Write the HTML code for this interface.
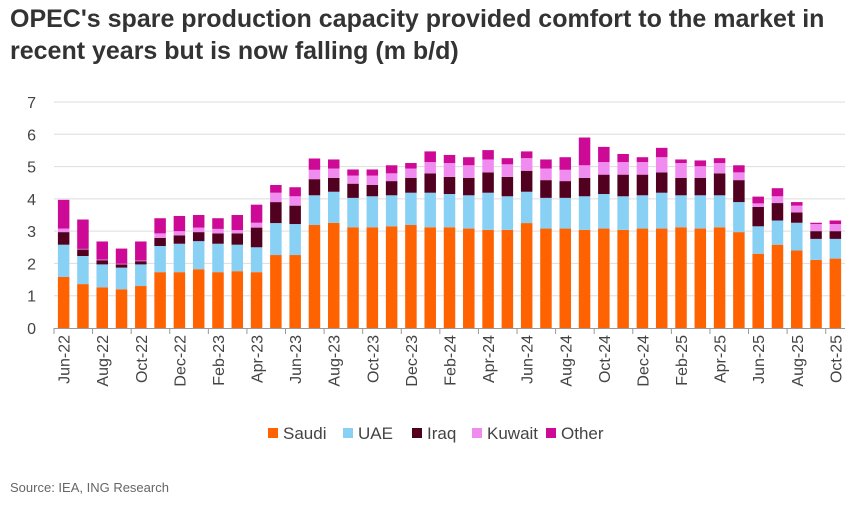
<!DOCTYPE html>
<html><head><meta charset="utf-8"><style>
body{margin:0;background:#fff;font-family:"Liberation Sans",sans-serif;}
#wrap{position:relative;width:850px;height:512px;overflow:hidden;}
h1{position:absolute;left:10px;top:3px;margin:0;font-size:25px;line-height:32px;font-weight:bold;color:#333;}
#src{position:absolute;left:10px;top:480px;font-size:13px;color:#666;}
</style></head><body>
<div id="wrap">
<h1>OPEC's spare production capacity provided comfort to the market in<br>recent years but is now falling (m b/d)</h1>
<svg id="chart" width="850" height="512" style="position:absolute;left:0;top:0"></svg>
<div id="src">Source: IEA, ING Research</div>
</div>
<script>
const categories=["Jun-22","Jul-22","Aug-22","Sep-22","Oct-22","Nov-22","Dec-22","Jan-23","Feb-23","Mar-23","Apr-23","May-23","Jun-23","Jul-23","Aug-23","Sep-23","Oct-23","Nov-23","Dec-23","Jan-24","Feb-24","Mar-24","Apr-24","May-24","Jun-24","Jul-24","Aug-24","Sep-24","Oct-24","Nov-24","Dec-24","Jan-25","Feb-25","Mar-25","Apr-25","May-25","Jun-25","Jul-25","Aug-25","Sep-25","Oct-25"];
const saudi=[1.58,1.36,1.26,1.20,1.30,1.73,1.73,1.82,1.73,1.76,1.73,2.26,2.26,3.19,3.26,3.12,3.12,3.15,3.19,3.12,3.12,3.08,3.04,3.04,3.25,3.08,3.08,3.04,3.08,3.04,3.08,3.08,3.12,3.08,3.12,2.97,2.30,2.58,2.40,2.11,2.15];
const uae=[1.00,0.87,0.71,0.67,0.67,0.81,0.88,0.87,0.88,0.82,0.77,0.99,0.96,0.92,0.96,0.91,0.96,0.96,1.00,1.07,1.03,1.03,1.15,1.04,0.97,0.95,0.95,1.04,1.07,1.04,1.03,1.11,0.99,1.03,0.99,0.93,0.85,0.75,0.86,0.65,0.61];
const iraq=[0.39,0.20,0.13,0.10,0.10,0.25,0.26,0.28,0.32,0.35,0.61,0.65,0.57,0.50,0.43,0.44,0.35,0.44,0.46,0.60,0.53,0.54,0.63,0.60,0.65,0.55,0.52,0.57,0.60,0.67,0.64,0.63,0.54,0.54,0.68,0.68,0.60,0.54,0.32,0.24,0.24];
const kuwait=[0.11,0.02,0.02,0.02,0.02,0.14,0.13,0.14,0.14,0.10,0.15,0.29,0.29,0.29,0.29,0.25,0.29,0.24,0.29,0.35,0.43,0.39,0.40,0.39,0.39,0.36,0.35,0.39,0.39,0.39,0.39,0.47,0.46,0.36,0.32,0.24,0.11,0.21,0.21,0.22,0.22];
const other=[0.89,0.91,0.56,0.47,0.59,0.47,0.47,0.39,0.33,0.47,0.56,0.24,0.28,0.35,0.28,0.19,0.19,0.25,0.17,0.33,0.25,0.25,0.29,0.19,0.21,0.28,0.39,0.86,0.47,0.25,0.15,0.29,0.11,0.18,0.15,0.22,0.21,0.25,0.11,0.04,0.11];
const seriesNames=["Saudi","UAE","Iraq","Kuwait","Other"];
const yTicks=[0,1,2,3,4,5,6,7];

const colors=["#FF6200","#89D0F5","#52001F","#F08BEF","#CC0A96"];
const series=[saudi,uae,iraq,kuwait,other];
const NS="http://www.w3.org/2000/svg";
const svg=document.getElementById('chart');
const x0=54,x1=845,yBase=328,yTop=102,yMax=7;
const step=(x1-x0)/categories.length;
const bw=11.5;
function y(v){return yBase-(v/yMax)*(yBase-yTop);}
function xc(i){return x0+step*(i+0.5);}
function mk(t,a){const e=document.createElementNS(NS,t);for(const k in a)e.setAttribute(k,a[k]);svg.appendChild(e);return e;}
yTicks.forEach(t=>{
  if(t>0){const g=mk('line',{x1:x0,x2:x1,y1:y(t),y2:y(t),stroke:'#ddd','stroke-width':1});
  
  }
  const l=mk('text',{x:36,y:y(t)+6,'text-anchor':'end','font-size':16,fill:'#444','font-family':'Liberation Sans, sans-serif'});
  l.textContent=t;
  
  
});
categories.forEach((c,i)=>{
  let cum=0;
  series.forEach((s,k)=>{
    const v=s[i];
    const r=mk('rect',{x:xc(i)-bw/2,y:y(cum+v),width:bw,height:y(cum)-y(cum+v),fill:colors[k]});
    
    
    cum+=v;
  });
  if(i%2===0){
    const tk=mk('line',{x1:x0+step*i,x2:x0+step*i,y1:yBase,y2:yBase+6,stroke:'#999','stroke-width':1});
    
    
    const t=mk('text',{transform:`translate(${xc(i)+6},${yBase+7}) rotate(-90)`,'text-anchor':'end','font-size':16,fill:'#444','font-family':'Liberation Sans, sans-serif'});
    t.textContent=c;
    
    
  }
});
const ax=mk('line',{x1:x0,x2:x1,y1:yBase+0.5,y2:yBase+0.5,stroke:'#999','stroke-width':1});


const legX=[268,343,412,472,546];
seriesNames.forEach((n,k)=>{
  const r=mk('rect',{x:legX[k],y:428,width:10,height:10,fill:colors[k]});
  
  
  const t=mk('text',{x:legX[k]+15,y:439,'font-size':17,fill:'#444','font-family':'Liberation Sans, sans-serif'});
  t.textContent=n;
  
  
});
</script>
</body></html>
